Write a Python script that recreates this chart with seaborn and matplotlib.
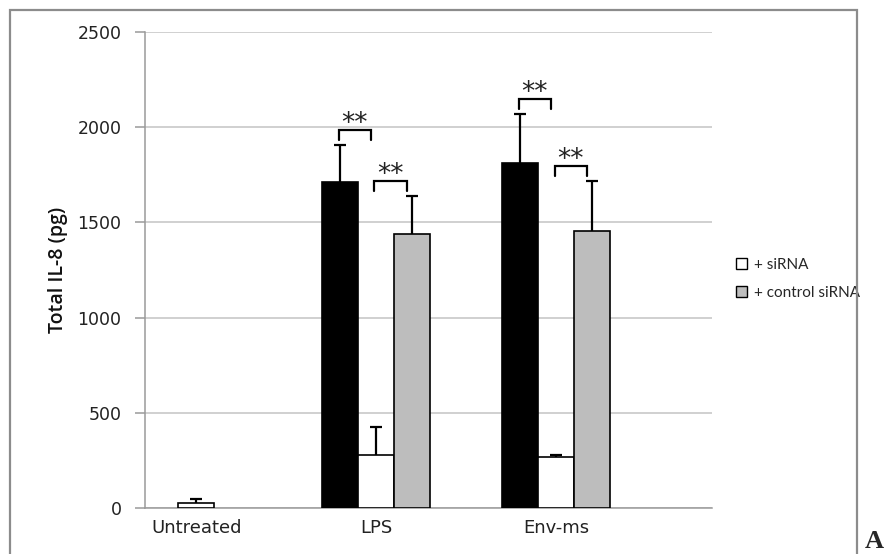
import matplotlib

matplotlib.use("Agg")
import matplotlib.pyplot as plt
import numpy as np
import pandas as pd
import seaborn as sns
from matplotlib.patches import Patch, Rectangle

# values
groups = ["Untreated", "LPS", "Env-ms"]
series = ["no siRNA", "+ siRNA", "+ control siRNA"]
mean_no_sirna = [None, 1710, 1810]
mean_sirna = [27, 280, 267]
mean_control = [None, 1437, 1453]
err_no_sirna = [None, 195, 258]
err_sirna = [20, 145, 13]
err_control = [None, 200, 263]
y_ticks = [0, 500, 1000, 1500, 2000, 2500]
# significance pairs: (group, series a, series b, label)
significance = [
    ("LPS", "no siRNA", "+ siRNA", "**"),
    ("LPS", "+ siRNA", "+ control siRNA", "**"),
    ("Env-ms", "no siRNA", "+ siRNA", "**"),
    ("Env-ms", "+ siRNA", "+ control siRNA", "**"),
]

colors = {"no siRNA": "#000000", "+ siRNA": "#ffffff", "+ control siRNA": "#bdbdbd"}
grid_gray = "#c4c4c4"
axis_gray = "#9a9a9a"

rows = []
for name, means, errs in [
    ("no siRNA", mean_no_sirna, err_no_sirna),
    ("+ siRNA", mean_sirna, err_sirna),
    ("+ control siRNA", mean_control, err_control),
]:
    for group, m, e in zip(groups, means, errs):
        if m is not None:
            rows.append({"group": group, "series": name, "value": m, "err": e})
frame = pd.DataFrame(rows)

sns.set_style("white")
plt.rcParams["font.family"] = ["DejaVu Sans"]

fig = plt.figure(figsize=(8.87, 5.54), dpi=100)
ax = fig.add_axes([145 / 887, 1 - 508 / 554, 567 / 887, 476 / 554])

sns.barplot(
    data=frame,
    x="group",
    y="value",
    hue="series",
    order=groups,
    hue_order=series,
    palette=colors,
    width=0.6,
    errorbar=None,
    edgecolor="black",
    linewidth=1.2,
    saturation=1,
    legend=False,
    ax=ax,
    zorder=3,
)

# bar centres, looked up through the bars seaborn drew
centres = {}
for name, container in zip(series, ax.containers):
    present = [g for g in groups if ((frame.group == g) & (frame.series == name)).any()]
    for group, bar in zip(present, container):
        centres[(group, name)] = bar.get_x() + bar.get_width() / 2

# upward-only error bars, Excel style
cap = 0.034
for row in frame.itertuples():
    x = centres[(row.group, row.series)]
    top = row.value + row.err
    ax.vlines(x, row.value, top, color="black", linewidth=1.6, zorder=4)
    ax.hlines(top, x - cap, x + cap, color="black", linewidth=1.6, zorder=4)

# significance brackets
lookup = frame.set_index(["group", "series"])
for group, a, b, label in significance:
    tops = [lookup.loc[(group, s), "value"] + lookup.loc[(group, s), "err"] for s in (a, b)]
    y = max(tops) + 80
    x0 = centres[(group, a)] - 0.01
    x1 = centres[(group, b)] - 0.03
    ax.plot([x0, x0, x1, x1], [y - 52, y, y, y - 52], color="black", linewidth=1.6,
            solid_joinstyle="miter", zorder=4)
    ax.annotate(label, ((x0 + x1) / 2, y), xytext=(0, -5), textcoords="offset points",
                ha="center", va="bottom", fontsize=19, color="#222222")

ax.set_ylim(0, 2500)
ax.set_xlim(-0.285, 2.865)
ax.set_yticks(y_ticks)
ax.set_yticklabels([str(t) for t in y_ticks])
ax.yaxis.grid(True, color=grid_gray, linewidth=1.1, zorder=0)
ax.set_axisbelow(True)
sns.despine(ax=ax, top=True, right=True)
ax.spines["left"].set_color(axis_gray)
ax.spines["bottom"].set_color(axis_gray)
ax.spines["left"].set_linewidth(1.1)
ax.spines["bottom"].set_linewidth(1.1)
ax.tick_params(axis="y", direction="out", length=7, width=1.1, color=axis_gray,
               labelsize=12.5, labelcolor="#222222", pad=10, left=True)
ax.tick_params(axis="x", length=0, labelsize=13, labelcolor="#222222", pad=8)
ax.set_xlabel("")
ax.set_ylabel("Total IL-8 (pg)", fontsize=14, fontweight="semibold",
              family=["Open Sans", "DejaVu Sans"], color="#111111", labelpad=7)

handles = [Patch(facecolor=colors[s], edgecolor="black", linewidth=1.0) for s in series[1:]]
ax.legend(handles, series[1:], loc="center left", bbox_to_anchor=(722 / 887, 1 - 279 / 554),
          bbox_transform=fig.transFigure, frameon=False, handlelength=0.75, handleheight=0.75,
          handletextpad=0.45, labelspacing=0.9, prop={"family": ["Lato", "DejaVu Sans"], "size": 11})

# outer chart frame and panel letter
fig.patches.append(Rectangle((10 / 887, -0.05), 847 / 887, 1 - 10 / 554 + 0.05,
                             transform=fig.transFigure, fill=False, edgecolor="#8c8c8c",
                             linewidth=1.6, zorder=0))
fig.text(865 / 887, 1 / 554, "A", fontsize=19, fontweight="bold",
         family=["Liberation Serif", "DejaVu Serif"], ha="left", va="bottom")

fig.savefig("out.png", dpi=100)
